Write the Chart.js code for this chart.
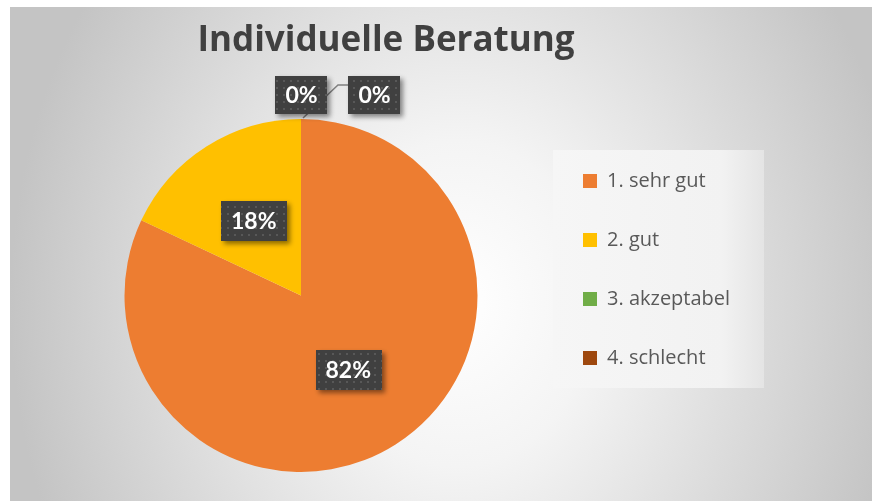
<!DOCTYPE html>
<html><head><meta charset="utf-8">
<script src="https://cdn.jsdelivr.net/npm/chart.js@4"></script>
<style>
html,body{margin:0;padding:0;background:#fff;width:872px;height:501px;overflow:hidden;}
#bg{position:absolute;left:10px;top:7px;width:862px;height:494px;
background:radial-gradient(ellipse 52% 110% at 52% 60%, #ffffff 0%, #f4f4f4 30%, #c4c4c4 100%);}
#c{position:absolute;left:0;top:0;}
</style></head><body>
<div id="bg"></div>
<canvas id="c" width="772" height="501"></canvas>
<script>
const chartTitle = 'Individuelle Beratung';
const categories = ['1. sehr gut', '2. gut', '3. akzeptabel', '4. schlecht'];
const values = [82, 18, 0, 0];
const sliceColors = ['#ED7D31', '#FFC000', '#70AD47', '#9E480E'];

const legendFontSize = 20;
const legendPad = 39;
const boxW = 14;

// layout: legend starts at x=544 in canvas, pie centred at x=301
const mctx = document.createElement('canvas').getContext('2d');
mctx.font = 'normal normal ' + legendFontSize + 'px "Open Sans"';
const maxTW = Math.max(...categories.map(t => mctx.measureText(t).width));
const legendW = legendPad + boxW + legendFontSize / 2 + maxTW + 10;
const legendLeft = 544;
const padLeft = 2 * 301 - legendLeft;
const padRight = 772 - legendLeft - legendW;

function makePattern(ctx) {
  const p = document.createElement('canvas');
  p.width = 7; p.height = 7;
  const g = p.getContext('2d');
  g.fillStyle = '#404040'; g.fillRect(0, 0, 7, 7);
  g.fillStyle = '#585858'; g.fillRect(3, 3, 2, 2);
  return ctx.createPattern(p, 'repeat');
}

const decoPlugin = {
  id: 'deco',
  afterLayout(chart) {
    const t = chart.titleBlock;
    const w = t.right - t.left;
    t.left = 386 - w / 2;
    t.right = 386 + w / 2;
  },
  beforeDraw(chart) {
    const ctx = chart.ctx, lg = chart.legend;
    const x0 = lg.left + 9, x1 = lg.left + 220, y0 = lg.top + 150, y1 = lg.top + 388;
    ctx.save();
    const gr = ctx.createLinearGradient(x0, 0, x1, 0);
    gr.addColorStop(0, '#f6f6f6');
    gr.addColorStop(0.8, '#f2f2f2');
    gr.addColorStop(1, '#e4e4e4');
    ctx.fillStyle = gr;
    ctx.fillRect(x0, y0, x1 - x0, y1 - y0);
    ctx.restore();
  },
  afterDatasetsDraw(chart) {
    const ctx = chart.ctx;
    const meta = chart.getDatasetMeta(0);
    ctx.save();
    ctx.font = 'bold 23px Lato';
    const pat = makePattern(ctx);
    const boxes = [];
    let zeroCount = 0;
    meta.data.forEach((arc, i) => {
      const v = values[i];
      const text = v + '%';
      const tw = ctx.measureText(text).width;
      let cx, cy, w = tw + 20, h = 40;
      if (v > 0) {
        const mid = (arc.startAngle + arc.endAngle) / 2;
        cx = arc.x + Math.cos(mid) * arc.outerRadius * 0.5;
        cy = arc.y + Math.sin(mid) * arc.outerRadius * 0.5;
      } else {
        h = 38;
        const px = arc.x + Math.cos(arc.startAngle) * arc.outerRadius;
        const py = arc.y + Math.sin(arc.startAngle) * arc.outerRadius;
        cx = px + 0.5 + zeroCount * 73;
        cy = py - 24;
        if (zeroCount === 1) {
          ctx.strokeStyle = '#7f7f7f';
          ctx.lineWidth = 1.5;
          ctx.beginPath();
          ctx.moveTo(px + 2, py - 1);
          ctx.lineTo(px + 37, py - 34);
          ctx.lineTo(px + 49, py - 34);
          ctx.stroke();
        }
        zeroCount++;
      }
      boxes.push({cx, cy, w, h, text});
    });
    boxes.forEach(b => {
      ctx.save();
      ctx.shadowColor = 'rgba(0,0,0,0.45)';
      ctx.shadowBlur = 5;
      ctx.shadowOffsetX = 3;
      ctx.shadowOffsetY = 3;
      ctx.fillStyle = pat;
      ctx.fillRect(Math.round(b.cx - b.w / 2), Math.round(b.cy - b.h / 2), Math.round(b.w), b.h);
      ctx.restore();
      ctx.fillStyle = '#ffffff';
      ctx.textAlign = 'center';
      ctx.textBaseline = 'middle';
      ctx.fillText(b.text, b.cx, b.cy + 1);
    });
    ctx.restore();
  }
};

new Chart(document.getElementById('c'), {
  type: 'pie',
  data: {
    labels: categories,
    datasets: [{
      data: values,
      backgroundColor: sliceColors,
      borderWidth: 0,
      hoverBorderWidth: 0,
      hoverOffset: 0,
      offset: 0
    }]
  },
  options: {
    responsive: false,
    animation: false,
    events: [],
    devicePixelRatio: 1,
    layout: {padding: {left: padLeft, right: padRight, top: 0, bottom: 29}},
    plugins: {
      tooltip: {enabled: false},
      title: {
        display: true,
        text: chartTitle,
        color: '#404040',
        font: {family: '"Open Sans"', size: 35, weight: 'bold', lineHeight: 1.2},
        padding: {top: 20.5, bottom: 56.5}
      },
      legend: {
        display: true,
        position: 'right',
        align: 'center',
        title: {display: true, text: '', font: {size: 1, lineHeight: 1}, padding: {top: 66, bottom: 0}},
        labels: {
          boxWidth: boxW,
          boxHeight: 14,
          padding: legendPad,
          color: '#595959',
          font: {family: '"Open Sans"', size: legendFontSize}
        }
      }
    }
  },
  plugins: [decoPlugin]
});
</script>
</body></html>
